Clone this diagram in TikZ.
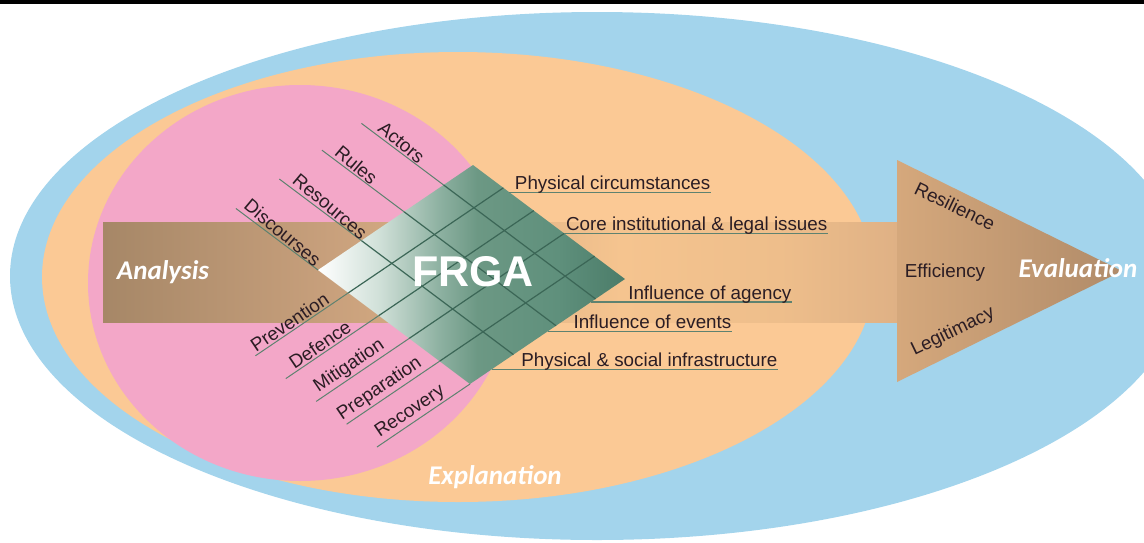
\documentclass[tikz,border=0pt]{standalone}
\usepackage{fontspec}
\setmainfont{Liberation Sans}
\newfontfamily\stagefont{Carlito}
\usetikzlibrary{calc}
\definecolor{outerBlue}{HTML}{A3D4EC}
\definecolor{peach}{HTML}{FBC995}
\definecolor{rosePink}{HTML}{F3A7C8}
\definecolor{bandBrown}{HTML}{A68767}
\definecolor{bandTan}{HTML}{C8A07C}
\definecolor{bandFaint}{HTML}{F5C48F}
\definecolor{bandFaintB}{HTML}{EEBE8B}
\definecolor{bandEnd}{HTML}{DFB185}
\definecolor{headLight}{HTML}{D5A87C}
\definecolor{headDark}{HTML}{B08B69}
\definecolor{frgaA}{HTML}{D0E0D8}
\definecolor{frgaB}{HTML}{8CB0A0}
\definecolor{frgaC}{HTML}{6C9884}
\definecolor{frgaD}{HTML}{5F907C}
\definecolor{frgaE}{HTML}{4B7C69}
\definecolor{gridGreen}{HTML}{3B6656}
\definecolor{tickGreen}{HTML}{5E8270}
\definecolor{labelInk}{HTML}{2B1D24}
\pgfdeclarehorizontalshading{bandShade}{100bp}{color(0bp)=(bandBrown); color(25bp)=(bandBrown);
  color(39.3bp)=(bandTan); color(57.6bp)=(bandFaint); color(67.6bp)=(bandFaintB);
  color(75bp)=(bandEnd); color(100bp)=(bandEnd)}
\pgfdeclarehorizontalshading{frgaShade}{100bp}{color(0bp)=(white); color(25bp)=(white);
  color(35bp)=(frgaA); color(45bp)=(frgaB); color(51bp)=(frgaC); color(64bp)=(frgaD);
  color(75bp)=(frgaE); color(100bp)=(frgaE)}

\begin{document}
\begin{tikzpicture}[x=1pt, y=-1pt]
  \tikzset{lbl/.style={font=\fontsize{18.8}{20}\selectfont, text=labelInk, inner sep=1.5pt},
           rlbl/.style={lbl, anchor=base east, inner sep=0pt, yshift=3pt},
           stage/.style={font=\stagefont\bfseries\itshape\fontsize{27}{30}\selectfont, text=white, inner sep=0pt},
           gridLine/.style={draw=gridGreen, line width=1.2pt},
           tick/.style={draw=tickGreen, line width=1pt}}
  \useasboundingbox (0,0) rectangle (1144,542);
  \clip (0,0) rectangle (1144,542);
  \fill[black] (0,0) rectangle (1144,3.5);
  % nested fields
  \fill[outerBlue] (597,276) ellipse [x radius=587, y radius=264];
  \fill[peach] (458,277) ellipse [x radius=416, y radius=225];
  \fill[rosePink] (300,283) ellipse [x radius=212, y radius=198];
  % the big arrow
  \shade[shading=bandShade] (103,222) rectangle (897,322);
  \shade[left color=headLight, right color=headDark] (897,160) -- (1122,271) -- (897,382) -- cycle;
  % FRGA matrix
  \coordinate (L) at (318,270);
  \coordinate (T) at (473,165);
  \coordinate (B) at (470,384);
  \coordinate (R) at (625,279);
  \shade[shading=frgaShade] (L) -- (T) -- (R) -- (B) -- cycle;
  \foreach \f in {0.28,0.555,0.81}
    \draw[gridLine] ($(L)!\f!(T)$) -- ($(B)!\f!(R)$);
  \foreach \k in {1,...,4}
    \draw[gridLine] ($(L)!\k/5!(B)$) -- ($(T)!\k/5!(R)$);
  \node[font=\bfseries\fontsize{43}{45}\selectfont, text=white] (frga) at (473,272) {FRGA};
  % labels of the rows and columns
  \foreach \f/\p/\txt [count=\k] in {0/0.5/Discourses,0.28/0.55/Resources,0.555/0.35/Rules,0.81/0.42/Actors} {
    \coordinate (up\k) at ($(L)!\f!(T)$);
    \coordinate (upOut\k) at ($(up\k)+0.54*(L)-0.54*(B)$);
    \draw[tick] (upOut\k) -- (up\k) node[lbl, pos=\p, anchor=south, rotate=-40] {\txt};
  }
  \foreach \k/\txt in {1/Prevention,2/Defence,3/Mitigation,4/Preparation,5/Recovery} {
    \coordinate (dn\k) at ($(L)!\k/5!(B)$);
    \coordinate (dnOut\k) at ($(dn\k)+0.6*(L)-0.6*(T)$);
    \draw[tick] (dnOut\k) -- (dn\k) node[lbl, pos=0.42, anchor=south, rotate=34.1] {\txt};
  }
  \foreach \a/\t/\ex/\txt [count=\i] in {T/0.24/711/{Physical circumstances},
      T/0.6/828/{Core institutional \& legal issues}, B/0.78/792/{Influence of agency},
      B/0.5/732/{Influence of events}, B/0.14/778/{Physical \& social infrastructure}} {
    \coordinate (rs\i) at ($(\a)!\t!(R)$);
    \coordinate (re\i) at (\ex,0);
    \draw[tick, line width=1.3pt] (rs\i) -- (rs\i -| re\i) node[rlbl] {\txt};
  }
  % criteria in the arrow head
  \node[lbl, rotate=-25.7] (resil) at (955,206) {Resilience};
  \node[lbl] (effic) at (945,273) {Efficiency};
  \node[lbl, rotate=25.7] (legit) at (953,332) {Legitimacy};
  % stages
  \node[stage] (analysis) at (163,272) {Analysis};
  \node[stage] (explan) at (495,477) {Explanation};
  \node[stage] (evalu) at (1078,268) {Evaluation};
\end{tikzpicture}
\end{document}
